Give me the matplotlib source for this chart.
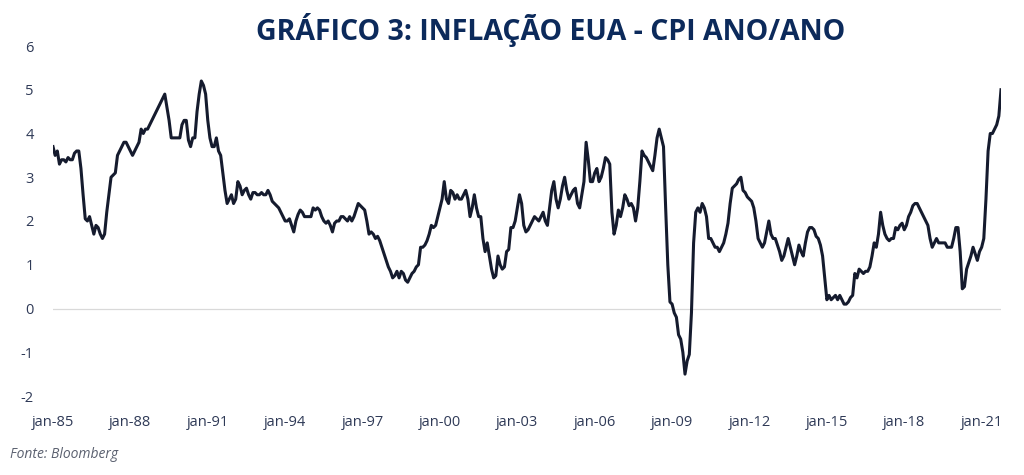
import numpy as np
import matplotlib
matplotlib.use("Agg")
import matplotlib.pyplot as plt

# Monthly YoY inflation (%), Jan 1985 .. Oct 2021
y1985 = [3.7, 3.5, 3.6, 3.3, 3.4, 3.4, 3.35, 3.45, 3.4, 3.4, 3.55, 3.6]
y1986 = [3.6, 3.2, 2.6, 2.05, 2.0, 2.1, 1.9, 1.7, 1.9, 1.85, 1.7, 1.6]
y1987 = [1.7, 2.2, 2.6, 3.0, 3.05, 3.1, 3.5, 3.6, 3.7, 3.8, 3.8, 3.7]
y1988 = [3.6, 3.5, 3.6, 3.7, 3.8, 4.1, 4.0, 4.1, 4.1, 4.2, 4.3, 4.4]
y1989 = [4.5, 4.6, 4.7, 4.8, 4.9, 4.6, 4.3, 3.9, 3.9, 3.9, 3.9, 3.9]
y1990 = [4.2, 4.3, 4.3, 3.85, 3.7, 3.9, 3.9, 4.5, 4.9, 5.2, 5.1, 4.9]
y1991 = [4.3, 3.9, 3.7, 3.7, 3.9, 3.6, 3.5, 3.1, 2.7, 2.4, 2.5, 2.6]
y1992 = [2.4, 2.5, 2.9, 2.8, 2.6, 2.7, 2.75, 2.6, 2.5, 2.65, 2.65, 2.6]
y1993 = [2.6, 2.65, 2.6, 2.6, 2.7, 2.6, 2.45, 2.4, 2.35, 2.3, 2.2, 2.1]
y1994 = [2.0, 2.0, 2.05, 1.9, 1.75, 2.0, 2.15, 2.25, 2.2, 2.1, 2.1, 2.1]
y1995 = [2.1, 2.3, 2.25, 2.3, 2.25, 2.1, 2.0, 1.95, 2.0, 1.9, 1.75, 1.95]
y1996 = [2.0, 2.0, 2.1, 2.1, 2.05, 2.0, 2.1, 2.0, 2.1, 2.25, 2.4, 2.35]
y1997 = [2.3, 2.25, 2.0, 1.7, 1.75, 1.7, 1.6, 1.65, 1.55, 1.4, 1.25, 1.1]
y1998 = [0.95, 0.85, 0.7, 0.75, 0.85, 0.7, 0.85, 0.8, 0.65, 0.6, 0.7, 0.8]
y1999 = [0.85, 0.95, 1.0, 1.4, 1.4, 1.45, 1.55, 1.7, 1.9, 1.85, 1.9, 2.1]
y2000 = [2.3, 2.5, 2.9, 2.5, 2.4, 2.7, 2.65, 2.5, 2.6, 2.5, 2.5, 2.6]
y2001 = [2.7, 2.5, 2.1, 2.3, 2.6, 2.3, 2.1, 2.1, 1.6, 1.3, 1.5, 1.2]
y2002 = [0.9, 0.7, 0.75, 1.2, 1.0, 0.9, 0.95, 1.3, 1.35, 1.85, 1.85, 2.0]
y2003 = [2.3, 2.6, 2.4, 1.9, 1.75, 1.8, 1.9, 2.0, 2.1, 2.05, 2.0, 2.1]
y2004 = [2.2, 2.0, 1.9, 2.3, 2.7, 2.9, 2.5, 2.3, 2.5, 2.8, 3.0, 2.7]
y2005 = [2.5, 2.6, 2.7, 2.75, 2.4, 2.3, 2.6, 2.9, 3.8, 3.4, 2.9, 2.9]
y2006 = [3.1, 3.2, 2.9, 3.0, 3.2, 3.45, 3.4, 3.3, 2.2, 1.7, 1.9, 2.25]
y2007 = [2.1, 2.3, 2.6, 2.5, 2.35, 2.4, 2.3, 2.0, 2.3, 2.9, 3.6, 3.5]
y2008 = [3.45, 3.35, 3.25, 3.15, 3.5, 3.9, 4.1, 3.9, 3.7, 2.3, 1.0, 0.15]
y2009 = [0.1, -0.1, -0.2, -0.6, -0.7, -1.0, -1.5, -1.2, -1.05, -0.1, 1.5, 2.2]
y2010 = [2.3, 2.2, 2.4, 2.3, 2.1, 1.6, 1.6, 1.5, 1.4, 1.4, 1.3, 1.4]
y2011 = [1.5, 1.7, 1.95, 2.4, 2.75, 2.8, 2.85, 2.95, 3.0, 2.7, 2.65, 2.55]
y2012 = [2.5, 2.45, 2.3, 2.0, 1.6, 1.5, 1.4, 1.5, 1.75, 2.0, 1.7, 1.6]
y2013 = [1.6, 1.45, 1.3, 1.1, 1.2, 1.4, 1.6, 1.4, 1.2, 1.0, 1.2, 1.45]
y2014 = [1.3, 1.2, 1.5, 1.75, 1.85, 1.85, 1.8, 1.65, 1.6, 1.45, 1.2, 0.7]
y2015 = [0.2, 0.3, 0.2, 0.25, 0.3, 0.2, 0.3, 0.2, 0.1, 0.1, 0.15, 0.25]
y2016 = [0.3, 0.8, 0.7, 0.9, 0.85, 0.8, 0.85, 0.85, 0.95, 1.2, 1.5, 1.4]
y2017 = [1.7, 2.2, 1.9, 1.7, 1.6, 1.55, 1.6, 1.6, 1.85, 1.8, 1.9, 1.95]
y2018 = [1.8, 1.9, 2.1, 2.2, 2.35, 2.4, 2.4, 2.3, 2.2, 2.1, 2.0, 1.9]
y2019 = [1.6, 1.4, 1.5, 1.6, 1.5, 1.5, 1.5, 1.5, 1.4, 1.4, 1.4, 1.6]
y2020 = [1.85, 1.85, 1.3, 0.45, 0.5, 0.9, 1.05, 1.2, 1.4, 1.25, 1.1, 1.3]
y2021 = [1.4, 1.6, 2.5, 3.6, 4.0, 4.0, 4.1, 4.2, 4.4, 5.0]

years = [y1985, y1986, y1987, y1988, y1989, y1990, y1991, y1992, y1993, y1994,
         y1995, y1996, y1997, y1998, y1999, y2000, y2001, y2002, y2003, y2004,
         y2005, y2006, y2007, y2008, y2009, y2010, y2011, y2012, y2013, y2014,
         y2015, y2016, y2017, y2018, y2019, y2020, y2021]
values = np.concatenate([np.array(v, dtype=float) for v in years])
months = np.arange(len(values))

tick_labels = ["jan-85", "jan-88", "jan-91", "jan-94", "jan-97", "jan-00", "jan-03",
               "jan-06", "jan-09", "jan-12", "jan-15", "jan-18", "jan-21"]
tick_pos = [36 * i for i in range(len(tick_labels))]
y_ticks = [-2, -1, 0, 1, 2, 3, 4, 5, 6]

title = "GRÁFICO 3: INFLAÇÃO EUA - CPI ANO/ANO"
source = "Fonte: Bloomberg"

W, H = 1024, 475
fig = plt.figure(figsize=(W / 100, H / 100), dpi=100)
fig.patch.set_facecolor("white")
left, right, top, bottom = 53, 1001, 46, 396
ax = fig.add_axes([left / W, 1 - bottom / H, (right - left) / W, (bottom - top) / H])

ax.axhline(0, color="#d9d9d9", linewidth=0.9, zorder=1)
ax.plot(months, values, color="#151b2e", linewidth=2.2, solid_joinstyle="round", zorder=3)

ax.set_xlim(0, len(values) - 1)
ax.set_ylim(-2, 6)
ax.set_xticks(tick_pos)
ax.set_xticklabels(tick_labels)
ax.set_yticks(y_ticks)
ax.set_yticklabels([str(v) for v in y_ticks])
for s in ax.spines.values():
    s.set_visible(False)
ax.tick_params(axis="both", length=0, labelsize=10.5, colors="#2f3a57")
ax.tick_params(axis="y", pad=14)
ax.tick_params(axis="x", pad=14)
for lab in ax.get_xticklabels() + ax.get_yticklabels():
    lab.set_family("Open Sans")

fig.text(551 / W, 1 - 30 / H, title, ha="center", va="center", fontsize=20.5,
         fontweight="bold", color="#0c2a5b", family="Open Sans")
fig.text(10 / W, 1 - 454 / H, source, ha="left", va="center", fontsize=10,
         style="italic", color="#5b6170", family="Open Sans")

fig.savefig("out.png", dpi=100, facecolor="white")
